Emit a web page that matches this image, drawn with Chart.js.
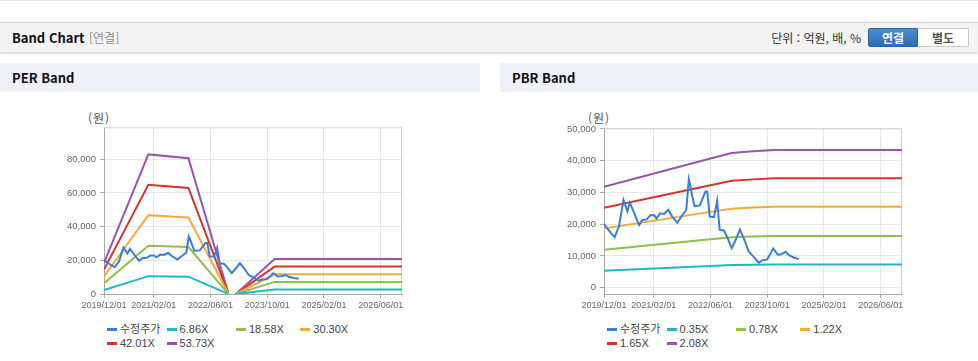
<!DOCTYPE html>
<html lang="ko">
<head>
<meta charset="utf-8">
<title>Band Chart</title>
<script src="https://cdn.jsdelivr.net/npm/chart.js@4.4.1/dist/chart.umd.min.js"></script>
<style>
  body { margin:0; width:978px; height:361px; position:relative; overflow:hidden; background:#fff;
         font-family:'Liberation Sans','Noto Sans CJK KR',sans-serif; }
  .topline { position:absolute; left:0; top:0; width:978px; height:1px; background:#e4e4e4; }
  .bar { position:absolute; left:0; top:22px; width:978px; height:29px; background:#f4f4f4;
         border-top:1px solid #cdcdcd; box-shadow:0 2px 2px rgba(0,0,0,.14); }
  .bar .title { position:absolute; left:12px; top:0; font:bold 13px/29px 'Noto Sans CJK KR'; color:#111; }
  .bar .sub { position:absolute; left:89px; top:0; font:12px/29px 'Noto Sans CJK KR'; color:#8a8a8a; }
  .bar .unit { position:absolute; right:117px; top:0; font:12px/29px 'Noto Sans CJK KR'; color:#333; }
  .btn { position:absolute; top:5px; height:19px; box-sizing:border-box; text-align:center;
         font:bold 12px/17px 'Noto Sans CJK KR'; }
  .btn.on { left:868px; width:50px; color:#fff; background:linear-gradient(#4d8ad0,#2f6cb0); border:1px solid #2c64a4; border-radius:2px 0 0 2px; }
  .btn.off { left:918px; width:51px; color:#555; background:#fff; border:1px solid #c9c9c9; border-left:none; border-radius:0 2px 2px 0; }
  .head { position:absolute; top:63px; height:29px; background:#eef2f6; }
  .head span { position:absolute; left:12px; top:0; font:bold 13px/29px 'Noto Sans CJK KR'; color:#111; }
  .unitlbl { position:absolute; top:109px; width:30px; text-align:center; font:12px/18px 'Noto Sans CJK KR'; color:#555; letter-spacing:1px; }
  canvas { position:absolute; top:105px; }
  .legend { position:absolute; top:322px; display:grid; grid-template-columns:59.6px 69.4px 64.3px auto; grid-auto-rows:14px;
            font-size:11px; color:#444; }
  .legend div { white-space:nowrap; line-height:14px; }
  .legend i { display:inline-block; width:10px; height:3px; margin-right:3px; vertical-align:middle; position:relative; top:-1px; }
</style>
</head>
<body>
<div class="topline"></div>
<div class="bar">
  <span class="title">Band Chart</span>
  <span class="sub">[연결]</span>
  <span class="unit">단위 : 억원, 배, %</span>
  <div class="btn on">연결</div>
  <div class="btn off">별도</div>
</div>

<div class="head" style="left:0;width:480px"><span>PER Band</span></div>
<div class="head" style="left:500px;width:478px"><span>PBR Band</span></div>

<div class="unitlbl" style="left:84px">(원)</div>
<div class="unitlbl" style="left:584px">(원)</div>

<canvas id="perChart" width="380" height="209" style="left:50px"></canvas>
<canvas id="pbrChart" width="380" height="209" style="left:550px"></canvas>

<div class="legend" id="perLegend" style="left:107px"></div>
<div class="legend" id="pbrLegend" style="left:607px"></div>

<script>
// x axis
const tickLabels = ['2019/12/01', '2021/02/01', '2022/06/01', '2023/10/01', '2025/02/01', '2026/06/01'];
const xStart = '2019/12/01';
const xEnd = '2026/12/01';

// 수정주가 (shared by both charts)
const priceDates = [
  '2019/12/01', '2019/12/28', '2020/02/01', '2020/03/01', '2020/04/07', '2020/05/16', '2020/06/19', '2020/07/10',
  '2020/08/28', '2020/09/28', '2020/10/25', '2020/12/01', '2021/01/04', '2021/02/04', '2021/02/25', '2021/03/25',
  '2021/04/28', '2021/06/04', '2021/07/07', '2021/08/22', '2021/10/04', '2021/11/07', '2021/11/28', '2021/12/10',
  '2021/12/28', '2022/01/16', '2022/03/01', '2022/04/01', '2022/04/19', '2022/05/04', '2022/05/25', '2022/07/01',
  '2022/07/28', '2022/08/19', '2022/09/25', '2022/10/22', '2022/12/01', '2023/01/04', '2023/02/10', '2023/03/19',
  '2023/04/25', '2023/06/07', '2023/07/19', '2023/08/19', '2023/10/01', '2023/11/22', '2024/01/01', '2024/01/28',
  '2024/03/07', '2024/04/04', '2024/05/16', '2024/06/28'
];
const priceValues = [
  20200, 18700, 17200, 15900, 19200, 27600, 24000, 26800,
  22400, 19700, 21300, 21500, 22800, 22900, 21800, 23400,
  23200, 24500, 22400, 20500, 22900, 24500, 34200, 32300,
  28700, 25700, 25900, 28700, 30300, 30300, 22400, 22200,
  27400, 18200, 18000, 16000, 12400, 15000, 18300, 15000,
  11300, 9700, 7900, 8600, 8900, 12300, 10400, 10500,
  11300, 10200, 9500, 9000
];

// PER band
const perNames = ['수정주가', '6.86X', '18.58X', '30.30X', '42.01X', '53.73X'];
const perTicks = [0, 20000, 40000, 60000, 80000];
const perDates = ['2019/12/01', '2020/12/16', '2021/11/25', '2022/11/01', '2022/12/01', '2023/01/06', '2023/12/04', '2026/12/01'];
const per686  = [2370, 10590, 10290, 100, null, 0, 2660, 2660];
const per1858 = [6410, 28670, 27870, 280, null, 0, 7190, 7190];
const per3030 = [10450, 46750, 45450, 450, null, 0, 11730, 11730];
const per4201 = [14490, 64820, 63020, 630, null, 0, 16260, 16260];
const per5373 = [18540, 82910, 80600, 810, null, 0, 20790, 20790];

// PBR band
const pbrNames = ['수정주가', '0.35X', '0.78X', '1.22X', '1.65X', '2.08X'];
const pbrTicks = [0, 10000, 20000, 30000, 40000, 50000];
const pbrDates = ['2019/12/01', '2022/06/01', '2022/12/01', '2023/06/01', '2023/12/01', '2026/12/01'];
const pbr035 = [5340, 6850, 7140, 7240, 7300, 7300];
const pbr078 = [11910, 15260, 15900, 16130, 16280, 16280];
const pbr122 = [18620, 23870, 24870, 25220, 25460, 25460];
const pbr165 = [25190, 32290, 33640, 34110, 34430, 34430];
const pbr208 = [31750, 40700, 42400, 43000, 43400, 43400];

const colors = ['#3a7fd4', '#20b6c9', '#8fbf4d', '#f6a93b', '#d2352c', '#9b55a8'];

// months since 2019/12/01
function toMonth(s) {
  const [y, m, d] = s.split('/').map(Number);
  return (y - 2019) * 12 + (m - 12) + (d - 1) / 30;
}

const boxPlugin = {
  id: 'box',
  beforeDatasetsDraw(chart) {
    const { ctx, chartArea: a } = chart;
    ctx.save();
    ctx.strokeStyle = '#cfcfcf';
    ctx.lineWidth = 1;
    ctx.beginPath();
    ctx.moveTo(a.left, a.top + 0.5);
    ctx.lineTo(a.right - 0.5, a.top + 0.5);
    ctx.lineTo(a.right - 0.5, a.bottom);
    ctx.stroke();
    ctx.restore();
  }
};

function drawBand(canvasId, legendId, names, bandDates, bands, yTicks, yMin, yMax, padTop) {
  const datasets = [{
    label: names[0],
    data: priceDates.map((d, i) => ({ x: toMonth(d), y: priceValues[i] }))
  }];
  bands.forEach((vals, k) => {
    datasets.push({
      label: names[k + 1],
      data: bandDates.map((d, i) => ({ x: toMonth(d), y: vals[i] }))
    });
  });
  datasets.forEach((ds, i) => {
    ds.borderColor = colors[i];
    ds.backgroundColor = colors[i];
    ds.borderWidth = 2;
    ds.pointRadius = 0;
    ds.tension = 0;
  });

  new Chart(document.getElementById(canvasId), {
    type: 'line',
    data: { datasets },
    options: {
      responsive: false,
      animation: false,
      layout: { padding: { top: padTop, right: 28, left: 0, bottom: 0 } },
      plugins: { legend: { display: false }, tooltip: { enabled: false } },
      scales: {
        x: {
          type: 'linear',
          min: toMonth(xStart),
          max: toMonth(xEnd),
          afterBuildTicks: s => { s.ticks = tickLabels.map(t => ({ value: toMonth(t) })); },
          afterFit: s => { s.height = 20; s.paddingLeft = 0; s.paddingRight = 0; },
          grid: { color: '#e6e6e6', tickColor: '#aaa', tickLength: 4 },
          border: { color: '#aaa' },
          ticks: {
            autoSkip: false, maxRotation: 0, padding: 2, color: '#666',
            font: { family: 'Liberation Sans', size: 9 },
            callback: (v, i) => tickLabels[i]
          }
        },
        y: {
          min: yMin,
          max: yMax,
          afterBuildTicks: s => { s.ticks = yTicks.map(v => ({ value: v })); },
          afterFit: s => { s.width = 54; s.paddingTop = 0; s.paddingBottom = 0; },
          grid: { color: '#e6e6e6', tickColor: '#aaa', tickLength: 4 },
          border: { color: '#aaa' },
          ticks: {
            padding: 4, color: '#666',
            font: { family: 'Liberation Sans', size: 9.5 },
            callback: v => v.toLocaleString('en-US')
          }
        }
      }
    },
    plugins: [boxPlugin]
  });

  const lg = document.getElementById(legendId);
  names.forEach((n, i) => {
    const item = document.createElement('div');
    item.innerHTML = '<i style="background:' + colors[i] + '"></i>' + n;
    lg.appendChild(item);
  });
}

drawBand('perChart', 'perLegend', perNames, perDates, [per686, per1858, per3030, per4201, per5373], perTicks, 0, 99000, 22.3);
drawBand('pbrChart', 'pbrLegend', pbrNames, pbrDates, [pbr035, pbr078, pbr122, pbr165, pbr208], pbrTicks, -2000, 50200, 23.3);
</script>
</body>
</html>
